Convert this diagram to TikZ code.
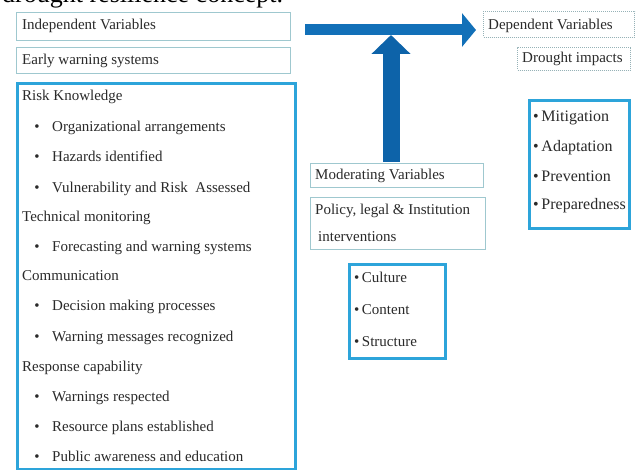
\documentclass[tikz,border=0pt]{standalone}
\usepackage{fontspec}
\setmainfont{Liberation Serif}
\usetikzlibrary{arrows.meta}
\definecolor{thinc}{HTML}{9FC8CF}
\definecolor{thickc}{HTML}{2DA4DA}
\definecolor{arrc}{HTML}{1270B8}
\definecolor{arrd}{HTML}{0D63A9}
\definecolor{txt}{HTML}{2A2A2A}
\tikzset{
  thinbox/.style={draw=thinc, line width=1.1pt, anchor=north west, inner sep=0pt},
  dotbox/.style={draw=thinc!70!gray, line width=1pt, densely dotted, anchor=north west, inner sep=0pt},
  thickbox/.style={draw=thickc, line width=3pt, anchor=north west, inner sep=0pt},
  lbl/.style={anchor=base west, inner sep=0pt, text=txt, font=\fontsize{15}{18}\selectfont},
  lblb/.style={anchor=base west, inner sep=0pt, text=txt, font=\fontsize{16}{19}\selectfont},
  bul/.style={anchor=base, inner sep=0pt, text=txt, font=\fontsize{15}{18}\selectfont},
  bigarrow/.style={line width=11pt, draw=arrc, -{Triangle[length=14pt,width=33pt]}},
  uparrow/.style={line width=17pt, draw=arrd, -{Triangle[length=19pt,width=38pt]}}
}
\begin{document}
\begin{tikzpicture}[x=1pt,y=-1pt]
\useasboundingbox (0,0) rectangle (638,470);
\clip (0,0) rectangle (638,470);
\fill[white] (0,0) rectangle (638,470);
% cut-off title line
\node[anchor=base west, inner sep=0pt, text=black, font=\fontsize{26}{30}\selectfont] (title) at (2,3) {drought resilience concept.};
% left column
\node[thinbox, minimum width=274pt, minimum height=28pt] (indep) at (16,12) {};
\node[lbl] (tindep) at (22,30) {Independent Variables};
\node[thinbox, minimum width=274pt, minimum height=26pt] (ews) at (16,47) {};
\node[lbl] (tews) at (22,65) {Early warning systems};
\node[thickbox, minimum width=278pt, minimum height=386pt] (rk) at (16,82) {};
\node[lbl] (h1) at (22,101) {Risk Knowledge};
\node[bul] (b1) at (37,132) {\textbullet}; \node[lbl] (i1) at (52,132) {Organizational arrangements};
\node[bul] (b2) at (37,162) {\textbullet}; \node[lbl] (i2) at (52,162) {Hazards identified};
\node[bul] (b3) at (37,193) {\textbullet}; \node[lbl] (i3) at (52,193) {Vulnerability and Risk\ \ Assessed};
\node[lbl] (h2) at (22,222) {Technical monitoring};
\node[bul] (b4) at (37,252) {\textbullet}; \node[lbl] (i4) at (52,252) {Forecasting and warning systems};
\node[lbl] (h3) at (22,281) {Communication};
\node[bul] (b5) at (37,311) {\textbullet}; \node[lbl] (i5) at (52,311) {Decision making processes};
\node[bul] (b6) at (37,342) {\textbullet}; \node[lbl] (i6) at (52,342) {Warning messages recognized};
\node[lbl] (h4) at (22,372) {Response capability};
\node[bul] (b7) at (37,402) {\textbullet}; \node[lbl] (i7) at (52,402) {Warnings respected};
\node[bul] (b8) at (37,432) {\textbullet}; \node[lbl] (i8) at (52,432) {Resource plans established};
\node[bul] (b9) at (37,462) {\textbullet}; \node[lbl] (i9) at (52,462) {Public awareness and education};
% right column
\node[dotbox, minimum width=151pt, minimum height=26pt] (dep) at (483,11) {};
\node[lbl] (tdep) at (488,30) {Dependent Variables};
\node[dotbox, minimum width=113pt, minimum height=23pt] (imp) at (517,47) {};
\node[lbl] (timp) at (522,63) {Drought impacts};
\node[thickbox, minimum width=100pt, minimum height=128pt] (mit) at (528,99) {};
\node[lblb] (m1) at (533,122) {\textbullet\,Mitigation};
\node[lblb] (m2) at (533,152) {\textbullet\,Adaptation};
\node[lblb] (m3) at (533,182) {\textbullet\,Prevention};
\node[lblb] (m4) at (533,210) {\textbullet\,Preparedness};
% middle column
\node[thinbox, minimum width=173pt, minimum height=24pt] (mod) at (310,163) {};
\node[lbl] (tmod) at (315,180) {Moderating Variables};
\node[thinbox, minimum width=175pt, minimum height=52pt] (pol) at (310,197) {};
\node[lbl] (tpol1) at (315,215) {Policy, legal \& Institution};
\node[lbl] (tpol2) at (318,242) {interventions};
\node[thickbox, minimum width=96pt, minimum height=94pt] (cul) at (348,263) {};
\node[lbl] (c1) at (354,283) {\textbullet\,Culture};
\node[lbl] (c2) at (354,315) {\textbullet\,Content};
\node[lbl] (c3) at (354,347) {\textbullet\,Structure};
% arrows
\coordinate (hs) at (305,30);
\coordinate (vs) at (391,162);
\draw[bigarrow, shorten >=7pt] (hs) -- (hs -| dep.west);
\draw[uparrow, shorten >=5pt] (vs) -- (vs |- hs);
\end{tikzpicture}
\end{document}
